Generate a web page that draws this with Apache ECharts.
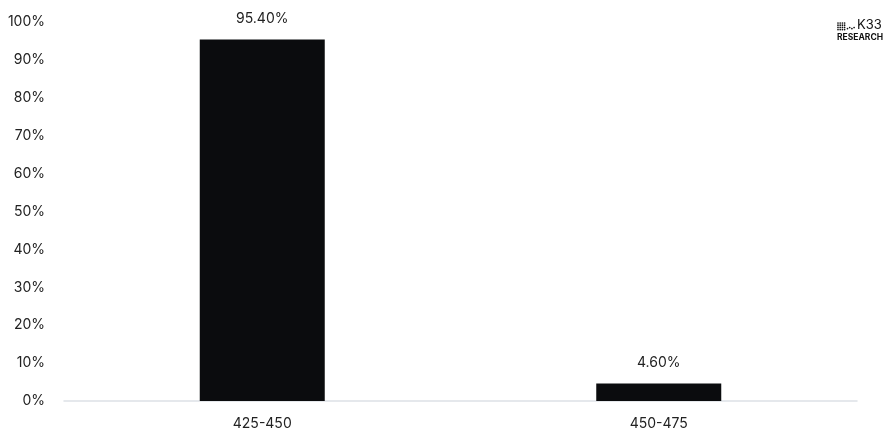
<!DOCTYPE html>
<html><head><meta charset="utf-8">
<script src="https://cdn.jsdelivr.net/npm/echarts@6/dist/echarts.min.js"></script>
<style>html,body{margin:0;padding:0;background:#fff}#c{width:886px;height:436px}</style>
</head><body><div id="c"></div>
<script>
const categories = ['425-450', '450-475'];
const shares = [95.40, 4.60];
const yMin = 0, yMax = 100, yStep = 10;

const chart = echarts.init(document.getElementById('c'));
const dots = [];
for (let r = 0; r < 4; r++) for (let c = 0; c < 4; c++) {
  dots.push({type:'circle', shape:{cx:838 + c*2.2, cy:23 + r*2.2, r:0.85}, style:{fill:'#111'}});
}
for (let c = 0; c < 4; c++) {
  dots.push({type:'circle', shape:{cx:847.5 + c*2.2, cy:27.5 + (c % 2 ? 0 : 1.1), r:0.85}, style:{fill:'#111'}});
}
chart.setOption({
  animation:false,
  textStyle:{fontFamily:'Inter, sans-serif'},
  grid:{left:64, right:29, top:22, bottom:35, containLabel:false},
  xAxis:{type:'category', data:categories,
    axisLine:{lineStyle:{color:'#dde1e6', width:1.5}}, axisTick:{show:false},
    axisLabel:{color:'#222', fontSize:14, margin:16, fontFamily:'Inter, sans-serif'}},
  yAxis:{type:'value', min:yMin, max:yMax, interval:yStep, splitLine:{show:false},
    axisLabel:{color:'#222', fontSize:14, margin:19, formatter:'{value}%', fontFamily:'Inter, sans-serif'}},
  series:[{type:'bar', data:shares, barWidth:125, itemStyle:{color:'#0b0c0e'},
    label:{show:true, position:'top', distance:14, color:'#222', fontSize:14,
      formatter:p => p.value.toFixed(2) + '%'}}],
  graphic:[
    {type:'group', children:dots},
    {type:'text', left:857, top:19, style:{text:'K33', font:'13px Inter, sans-serif', fill:'#111'}},
    {type:'text', left:837, top:33, style:{text:'RESEARCH', font:'bold 8.5px Inter, sans-serif', fill:'#111'}}
  ]
});
</script></body></html>
